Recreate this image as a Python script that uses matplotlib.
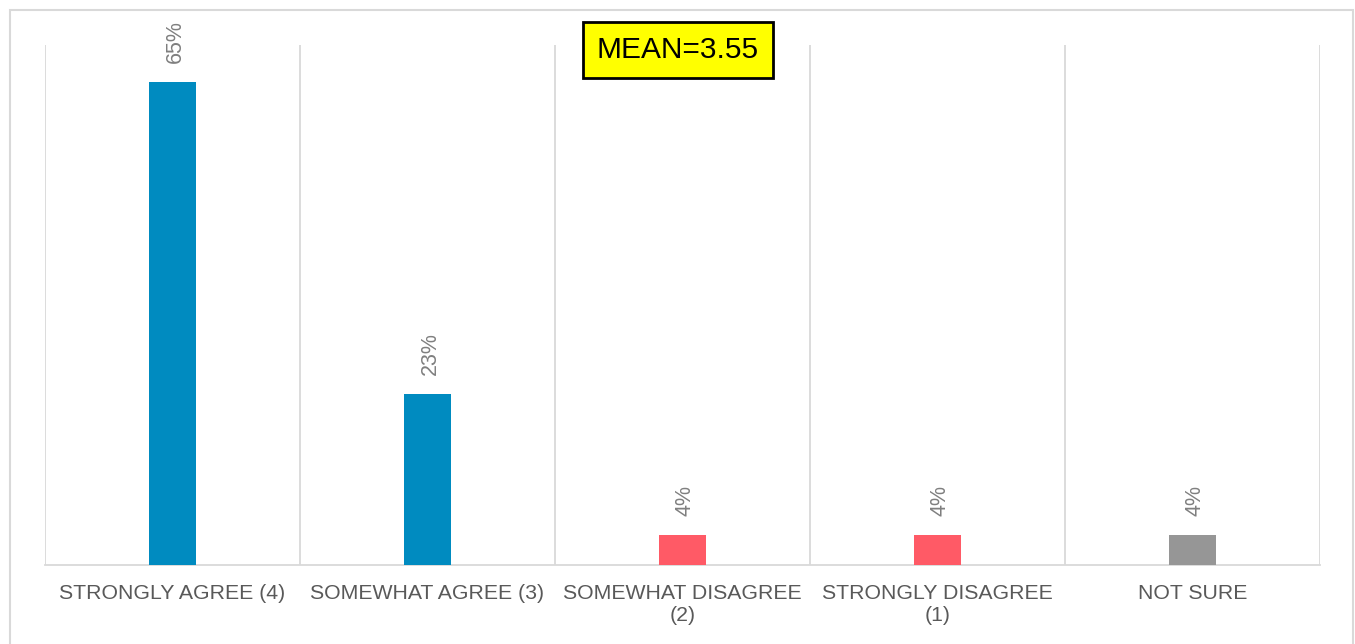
import matplotlib.pyplot as plt
import matplotlib.patches as patches

plt.rcParams['font.family'] = ['Liberation Sans', 'DejaVu Sans']

categories = ["STRONGLY AGREE (4)", "SOMEWHAT AGREE (3)", "SOMEWHAT DISAGREE\n(2)",
              "STRONGLY DISAGREE\n(1)", "NOT SURE"]
values = [65, 23, 4, 4, 4]
colors = ["#008BC0", "#008BC0", "#FF5A66", "#FF5A66", "#969696"]
mean_text = "MEAN=3.55"

fig = plt.figure(figsize=(13.55, 6.44), dpi=100)
ax = fig.add_axes([45 / 1355, 79 / 644, 1275 / 1355, 520 / 644])

x = list(range(len(categories)))
ax.bar(x, values, width=0.185, color=colors, zorder=3)

for i, v in zip(x, values):
    ax.text(i + 0.01, v + 2.6, f"{v}%", rotation=90, ha="center", va="bottom",
            fontsize=15.5, color="#7F7F7F")

ax.set_xlim(-0.5, len(categories) - 0.5)
ax.set_ylim(0, 70)
ax.set_yticks([])
ax.set_xticks(x)
ax.set_xticklabels(categories, fontsize=15.3, color="#595959")
ax.tick_params(axis="x", length=0, pad=14)

# category separators
for b in range(len(categories) + 1):
    ax.axvline(b - 0.5, color="#D9D9D9", lw=1.3, zorder=1)

for s in ["top", "left", "right"]:
    ax.spines[s].set_visible(False)
ax.spines["bottom"].set_color("#D9D9D9")
ax.spines["bottom"].set_linewidth(1.3)

# outer chart border
border = patches.Rectangle((10 / 1355, -0.02), 1343 / 1355, 1 - 10 / 644 + 0.02,
                           transform=fig.transFigure, fill=False,
                           edgecolor="#D9D9D9", lw=1.5)
fig.add_artist(border)

fig.text(678 / 1355, 1 - 50 / 644, mean_text, ha="center", va="center", fontsize=21.5,
         color="black",
         bbox=dict(boxstyle="square,pad=0.47", facecolor="#FFFF00", edgecolor="black", lw=2))

fig.savefig("out.png", dpi=100)
